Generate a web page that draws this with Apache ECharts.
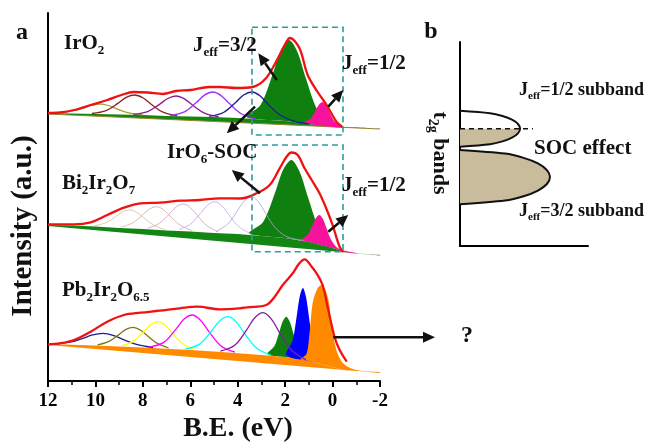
<!DOCTYPE html>
<html>
<head>
<meta charset="utf-8">
<script src="https://cdn.jsdelivr.net/npm/echarts@6/dist/echarts.min.js"></script>
<style>
  html, body { margin: 0; padding: 0; background: #fff; }
  #chart { width: 649px; height: 443px; }
</style>
</head>
<body>
<div id="chart"></div>
<script>
// binding energy ticks (axis runs 12 -> -2)
var beTicks = [12, 10, 8, 6, 4, 2, 0, -2];

// ---- IrO2 (top trace) ----
var iroBase = [[12, 268], [11, 267.5], [10, 267], [9, 266.5], [8, 266], [7, 265], [6, 264.5], [5, 264], [4, 263], [3, 261.5], [2, 260], [1, 257], [0, 254], [-1, 253], [-2, 252]];
var iroLow = [[12, 267], [-2, 252]];
var iroOlive = [[11.8, 267.8], [11.2, 269.2], [10.5, 272.8], [10.15, 275.8], [9.8, 277], [9.45, 275.5], [9.1, 272.2], [8.6, 268.1], [8.0, 266.2]];
var iroBrown = [[10.15, 267.5], [9.55, 270.4], [9.05, 277.6], [8.7, 283.6], [8.35, 286], [8.0, 283.2], [7.65, 276.8], [7.15, 268.8], [6.55, 265.2]];
var iroPurple = [[8.4, 266.6], [7.8, 269.4], [7.3, 276.6], [6.95, 282.5], [6.6, 285], [6.25, 282.1], [5.9, 275.8], [5.4, 267.8], [4.8, 264.2]];
var iroViolet = [[6.85, 265.5], [6.25, 269.1], [5.75, 278.4], [5.4, 285.9], [5.05, 289], [4.7, 285.4], [4.35, 277.4], [3.85, 267.3], [3.25, 262.4]];
var iroNavy = [[5.2, 264.7], [4.6, 268.5], [4.1, 278.2], [3.75, 286], [3.4, 289], [3.05, 285], [2.7, 276.1], [2.2, 265.8], [1.6, 259.6], [1.0, 257.2]];
var iroGreen = [[3.63, 264.3], [3.03, 276.3], [2.53, 306.4], [2.18, 330.7], [1.83, 341], [1.48, 329.1], [1.13, 303], [0.63, 270.6], [0.03, 255.9]];
var iroPink = [[1.22, 258.3], [0.92, 262.5], [0.72, 270.2], [0.57, 276.5], [0.42, 279], [0.27, 275.8], [0.12, 268.6], [-0.08, 259.8], [-0.38, 254.3], [-1, 253.5], [-2, 252.6]];
var iroEnv = [[12, 268], [11.5, 268.5], [10.9, 271], [10.2, 276], [9.5, 281], [8.9, 286], [8.4, 289], [7.8, 288.5], [7.15, 287], [6.6, 290], [6.0, 291], [5.2, 294], [4.76, 294], [4.05, 293], [3.37, 294], [2.8, 303], [2.3, 323], [1.95, 339], [1.8, 343], [1.4, 333], [1.05, 306], [0.63, 289], [0.25, 276], [-0.17, 259], [-0.42, 254]];

// ---- Bi2Ir2O7 (middle trace) ----
var biBase = [[12, 156], [11, 155.5], [10, 154.5], [9, 153], [8, 152], [7, 150.5], [6, 149.5], [5, 148], [4, 147], [3, 145], [2, 143], [1, 139], [0, 133], [-0.5, 129], [-1, 127.5], [-2, 126]];
var biLow = [[12, 155], [-2, 125.5]];
var biP1 = [[10.05, 155.2], [9.55, 158.4], [9.15, 164.3], [8.85, 169.2], [8.55, 171], [8.25, 168.5], [7.95, 163], [7.55, 155.9], [7.05, 151.3]];
var biP2 = [[8.92, 153.8], [8.42, 158.2], [8.02, 165.9], [7.72, 172], [7.42, 174.3], [7.12, 171.1], [6.82, 164.1], [6.42, 155.8], [5.92, 150.3]];
var biP3 = [[7.8, 152.8], [7.3, 157.7], [6.9, 166.6], [6.6, 174], [6.3, 177], [6.0, 173.4], [5.7, 165.4], [5.3, 155.3], [4.8, 148.9]];
var biP4 = [[6.47, 151.3], [5.97, 157.3], [5.57, 167.7], [5.27, 175.9], [4.97, 179.3], [4.67, 175.2], [4.37, 166.2], [3.97, 154.7], [3.47, 147.4]];
var biP5 = [[4.92, 149.4], [4.42, 157], [4.02, 170], [3.72, 180.1], [3.42, 184.3], [3.12, 178.9], [2.82, 167.6], [2.42, 153.4], [1.92, 144.3], [1.2, 140.5]];
var biGreen = [[3.53, 147.9], [2.93, 159.1], [2.43, 188.1], [2.08, 211.5], [1.73, 221], [1.38, 208.8], [1.03, 183.3], [0.53, 150.2], [-0.07, 134.2]];
var biPink = [[1.35, 140.6], [1.05, 146.1], [0.85, 155.5], [0.7, 163], [0.55, 166], [0.4, 161.8], [0.25, 152.5], [0.05, 140.8], [-0.25, 132.4], [-1, 128], [-2, 126.6]];
var biEnv = [[12, 156.7], [10.9, 156.7], [10.2, 158.7], [9.5, 166], [8.8, 173.3], [8.1, 177.7], [7.3, 178.3], [6.4, 180.3], [5.6, 181], [4.76, 182.7], [3.9, 182.5], [3.2, 187.7], [2.65, 196], [2.23, 212.7], [1.94, 224.3], [1.73, 228.5], [1.47, 226], [1.18, 212.7], [0.88, 201], [0.55, 187.7], [0.21, 169.3], [0, 156], [-0.3, 134], [-0.45, 129]];

// ---- Pb2Ir2O6.5 (bottom trace) ----
var pbBase = [[12, 37], [10, 35.5], [8, 33.5], [6, 31], [4.7, 29], [3, 26], [2, 24], [1, 20], [0.5, 17], [0, 14], [-0.5, 11], [-1, 10], [-2, 9]];
var pbLow = [[12, 36], [-2, 8]];
var pbNavy = [[11.77, 37], [11.07, 38.8], [10.57, 42.3], [10.12, 46.1], [9.67, 47.7], [9.22, 45.4], [8.77, 40.9], [8.27, 36.6], [7.57, 33.4]];
var pbOlive = [[9.91, 36.1], [9.41, 39.9], [9.01, 46.4], [8.71, 51.6], [8.41, 53.7], [8.11, 51], [7.81, 45.2], [7.41, 37.9], [6.91, 33]];
var pbYellow = [[8.86, 35.4], [8.36, 40.4], [7.96, 49.3], [7.66, 56.4], [7.36, 59.3], [7.06, 55.7], [6.76, 48], [6.36, 38.1], [5.86, 31.9]];
var pbMagenta = [[7.72, 33.9], [7.12, 38.6], [6.62, 51.4], [6.27, 61.7], [5.92, 66], [5.57, 60.8], [5.22, 49.7], [4.72, 35.3], [4.12, 28.9]];
var pbCyan = [[6.21, 32], [5.61, 36.9], [5.11, 49.8], [4.76, 60.1], [4.41, 64.3], [4.06, 59], [3.71, 47.4], [3.21, 33], [2.61, 26]];
var pbPurple = [[4.73, 29.9], [4.13, 35.7], [3.63, 50.9], [3.28, 63.2], [2.93, 68.3], [2.58, 61.9], [2.23, 48.2], [1.73, 30.8], [1.13, 21.4]];
var pbGreen = [[2.75, 26.7], [2.45, 34.9], [2.25, 48.7], [2.1, 59.7], [1.95, 64.3], [1.8, 59], [1.65, 47.2], [1.45, 32.2], [1.15, 22.2]];
var pbBlue = [[1.95, 26], [1.68, 40.7], [1.51, 65.2], [1.38, 84.9], [1.25, 93], [1.12, 83.9], [0.99, 63.1], [0.82, 37], [0.55, 19.5]];
var pbOrange = [[1.35, 22], [1.1, 27], [0.97, 48], [0.84, 78], [0.65, 92], [0.48, 96], [0.3, 91], [0.15, 78], [0.06, 58], [-0.16, 31], [-0.43, 18], [-0.85, 12], [-1.3, 10], [-2, 9.5]];
var pbEnv = [[12, 36.7], [11.5, 37.7], [10.9, 41], [10.2, 49.3], [9.5, 59.3], [8.8, 66], [8.1, 68.3], [7.3, 70.3], [6.44, 72.7], [5.7, 74.3], [4.76, 71.7], [3.9, 72.7], [3.6, 73.7], [2.8, 76], [2.44, 84.3], [2.1, 96], [1.68, 107.7], [1.4, 117.7], [1.18, 121.7], [0.88, 114.3], [0.63, 106], [0.42, 96], [0.21, 74.3], [-0.08, 44.3], [-0.3, 31], [-0.6, 19.3]];

// dashed boxes and arrows (B.E., intensity)
var boxTop = [[3.4, 353.7], [-0.44, 353.7], [-0.44, 246], [3.4, 246]];
var boxMid = [[3.4, 236], [-0.44, 236], [-0.44, 129.3], [3.4, 129.3]];
var arrowsA = [
  [[2.35, 301], [3.13, 327.7]],
  [[3.27, 274.3], [4.46, 247.7]],
  [[0.18, 274.3], [-0.45, 291]],
  [[3.06, 187.7], [4.25, 211]],
  [[0.18, 149.3], [-0.66, 166]],
  [[-0.03, 43.7], [-4.32, 43.7]]
];

// ---- panel b: band sketch ----
var upperBand = [[0, 6.63], [2.35, 6.51], [3.32, 6.37], [4.06, 6.19], [4.53, 5.98], [4.69, 5.75], [4.53, 5.52], [4.06, 5.31], [3.32, 5.13], [2.35, 4.99], [0, 4.87]];
var upperFill = [[0, 5.75], [4.69, 5.75], [4.53, 5.52], [4.06, 5.31], [3.32, 5.13], [2.35, 4.99], [0, 4.87]];
var lowerBand = [[0, 4.71], [3.52, 4.53], [4.97, 4.32], [6.09, 4.05], [6.79, 3.72], [7.03, 3.38], [6.79, 3.04], [6.09, 2.72], [4.97, 2.44], [3.52, 2.23], [0, 2.05]];
var fermiLine = [[0, 5.75], [5.7, 5.75]];

var FONT = 'Liberation Serif';

// polygon / polyline drawn through the axes
function shape(pts, o) {
  var ax = o.axis || 0;
  return {
    type: 'custom', xAxisIndex: ax, yAxisIndex: ax, z: o.z || 2, silent: true,
    data: [0],
    renderItem: function (params, api) {
      var p = pts.map(function (d) { return api.coord(d); });
      return {
        type: o.open ? 'polyline' : 'polygon',
        shape: { points: p, smooth: o.smooth || 0 },
        style: { fill: o.fill || 'none', stroke: o.stroke || 'none', lineWidth: o.lw || 0, lineDash: o.dash || null }
      };
    }
  };
}

// close a filled peak along its background
function onBase(pts, base) {
  var hi = pts[0][0], lo = pts[pts.length - 1][0];
  var back = base.filter(function (b) { return b[0] < hi && b[0] > lo; }).reverse();
  return pts.concat(back);
}

function curve(name, data, color, width, z) {
  return {
    name: name, type: 'line', data: data, smooth: 0.35, symbol: 'none', silent: true,
    lineStyle: { color: color, width: width }, z: z
  };
}

function arrow(a, b) {
  return {
    type: 'custom', z: 6, silent: true, data: [0],
    renderItem: function (params, api) {
      var p0 = api.coord(a), p1 = api.coord(b);
      var dx = p1[0] - p0[0], dy = p1[1] - p0[1];
      var len = Math.sqrt(dx * dx + dy * dy);
      var ux = dx / len, uy = dy / len, hl = 12, hw = 5.5;
      var bx = p1[0] - ux * hl, by = p1[1] - uy * hl;
      return {
        type: 'group', children: [
          { type: 'line', shape: { x1: p0[0], y1: p0[1], x2: bx, y2: by }, style: { stroke: '#111', lineWidth: 2.5 } },
          { type: 'polygon', shape: { points: [p1, [bx - uy * hw, by + ux * hw], [bx + uy * hw, by - ux * hw]] }, style: { fill: '#111' } }
        ]
      };
    }
  };
}

var series = [];
// backgrounds
series.push(shape(iroBase.concat(iroLow.slice().reverse()), { fill: '#128512', z: 1 }));
series.push(shape(iroLow, { open: true, stroke: '#8f8a2a', lw: 1.2, z: 1 }));
series.push(shape(biBase.concat(biLow.slice().reverse()), { fill: '#128512', z: 1 }));
series.push(shape(pbBase.concat(pbLow.slice().reverse()), { fill: '#ff8a00', z: 1 }));
// filled components
series.push(shape(onBase(iroGreen, iroBase), { fill: '#0f800f', smooth: 0.3, z: 2 }));
series.push(shape(onBase(iroPink, iroBase), { fill: '#f7139b', smooth: 0.3, z: 2 }));
series.push(shape(onBase(biGreen, biBase), { fill: '#0f800f', smooth: 0.3, z: 2 }));
series.push(shape(onBase(biPink, biBase), { fill: '#f7139b', smooth: 0.3, z: 2 }));
series.push(shape(onBase(pbGreen, pbBase), { fill: '#0f800f', smooth: 0.3, z: 2 }));
series.push(shape(onBase(pbBlue, pbBase), { fill: '#0000ff', smooth: 0.3, z: 2 }));
series.push(shape(onBase(pbOrange, pbBase), { fill: '#ff8a00', smooth: 0.3, z: 2 }));
// open components
series.push(curve('IrO2 1', iroOlive, '#a3a032', 1.3, 3));
series.push(curve('IrO2 2', iroBrown, '#8b2222', 1.3, 3));
series.push(curve('IrO2 3', iroPurple, '#8b1a8b', 1.3, 3));
series.push(curve('IrO2 4', iroViolet, '#9b30ff', 1.3, 3));
series.push(curve('IrO2 5', iroNavy, '#1c1c8c', 1.3, 3));
series.push(curve('Bi 1', biP1, '#cdc296', 0.8, 3));
series.push(curve('Bi 2', biP2, '#d6a4a6', 0.8, 3));
series.push(curve('Bi 3', biP3, '#c99ccb', 0.8, 3));
series.push(curve('Bi 4', biP4, '#c0a4e6', 0.8, 3));
series.push(curve('Bi 5', biP5, '#a6a6d6', 0.8, 3));
series.push(curve('Pb 1', pbNavy, '#1e1e90', 1.3, 3));
series.push(curve('Pb 2', pbOlive, '#7c7a14', 1.3, 3));
series.push(curve('Pb 3', pbYellow, '#ffff00', 1.3, 3));
series.push(curve('Pb 4', pbMagenta, '#ff00ff', 1.3, 3));
series.push(curve('Pb 5', pbCyan, '#00ffff', 1.3, 3));
series.push(curve('Pb 6', pbPurple, '#7e1e9e', 1.3, 3));
// envelopes
series.push(curve('IrO2 sum', iroEnv, '#f01212', 2.3, 4));
series.push(curve('Bi sum', biEnv, '#f01212', 2.3, 4));
series.push(curve('Pb sum', pbEnv, '#f01212', 2.3, 4));
// boxes
series.push(shape(boxTop, { stroke: '#2f9b9b', lw: 1.6, dash: [6, 4], z: 5 }));
series.push(shape(boxMid, { stroke: '#2f9b9b', lw: 1.6, dash: [6, 4], z: 5 }));
arrowsA.forEach(function (a) { series.push(arrow(a[0], a[1])); });
// panel b
series.push(shape(upperFill, { axis: 1, fill: '#c9bc9c', z: 2 }));
series.push(shape(lowerBand, { axis: 1, fill: '#c9bc9c', z: 2 }));
series.push(shape(upperBand, { axis: 1, open: true, stroke: '#111', lw: 2, smooth: 0.3, z: 3 }));
series.push(shape(lowerBand, { axis: 1, open: true, stroke: '#111', lw: 2, smooth: 0.3, z: 3 }));
series.push(shape(fermiLine, { axis: 1, open: true, stroke: '#111', lw: 1.6, dash: [5, 4], z: 3 }));

function txt(x, y, text, size, extra) {
  extra = extra || {};
  var sub = extra.sub || Math.round(size * 0.62);
  return {
    type: 'text', x: x, y: y, rotation: extra.rot || 0, z: 100, silent: true,
    style: {
      text: text, fill: '#111', fontSize: size, fontWeight: 'bold', fontFamily: FONT,
      align: extra.align || 'left', verticalAlign: 'middle',
      rich: {
        m: { fontSize: size, fontWeight: 'bold', fontFamily: FONT, fill: '#111' },
        s: { fontSize: sub, fontWeight: 'bold', fontFamily: FONT, fill: '#111', padding: [Math.round(size * 0.68), 0, 0, 0] }
      }
    }
  };
}

var labels = [
  txt(22, 33, 'a', 24, { align: 'center' }),
  txt(64, 44, '{m|IrO}{s|2}', 21),
  txt(193, 46, '{m|J}{s|eff}{m|=3/2}', 21),
  txt(342, 64, '{m|J}{s|eff}{m|=1/2}', 21),
  txt(167, 153, '{m|IrO}{s|6}{m|-SOC}', 21),
  txt(62, 184, '{m|Bi}{s|2}{m|Ir}{s|2}{m|O}{s|7}', 21),
  txt(342, 186, '{m|J}{s|eff}{m|=1/2}', 21),
  txt(62, 291, '{m|Pb}{s|2}{m|Ir}{s|2}{m|O}{s|6.5}', 21),
  txt(467, 336, '?', 24, { align: 'center' }),
  txt(238, 429, 'B.E. (eV)', 28, { align: 'center' }),
  txt(24, 226, 'Intensity (a.u.)', 29, { align: 'center', rot: Math.PI / 2 }),
  txt(431, 32, 'b', 24, { align: 'center' }),
  txt(519, 90, '{m|J}{s|eff}{m|=1/2 subband}', 18),
  txt(534, 149, 'SOC effect', 21),
  txt(519, 211, '{m|J}{s|eff}{m|=3/2 subband}', 18),
  txt(440, 153, '{m|t}{s|2g}{m| bands}', 22, { align: 'center', rot: -Math.PI / 2 })
];

var blackLine = { show: true, onZero: false, lineStyle: { color: '#000', width: 2 } };

var option = {
  animation: false,
  backgroundColor: '#fff',
  grid: [
    { left: 48, top: 13, width: 332, height: 368 },
    { left: 460, top: 42, width: 128, height: 204 }
  ],
  xAxis: [
    {
      type: 'value', gridIndex: 0, inverse: true,
      min: beTicks[beTicks.length - 1], max: beTicks[0], interval: 2,
      axisLine: blackLine,
      axisTick: { show: true, length: 6, lineStyle: { color: '#000', width: 2 } },
      minorTick: { show: true, splitNumber: 2, length: 4, lineStyle: { color: '#000', width: 1.5 } },
      splitLine: { show: false },
      axisLabel: { margin: 11, color: '#000', fontSize: 19, fontWeight: 'bold', fontFamily: FONT }
    },
    { type: 'value', gridIndex: 1, min: 0, max: 10, axisLine: blackLine, axisTick: { show: false }, axisLabel: { show: false }, splitLine: { show: false } }
  ],
  yAxis: [
    { type: 'value', gridIndex: 0, min: 0, max: 368, axisLine: blackLine, axisTick: { show: false }, axisLabel: { show: false }, splitLine: { show: false } },
    { type: 'value', gridIndex: 1, min: 0, max: 10, axisLine: blackLine, axisTick: { show: false }, axisLabel: { show: false }, splitLine: { show: false } }
  ],
  graphic: labels,
  series: series
};

var chart = echarts.init(document.getElementById('chart'));
chart.setOption(option);
window.addEventListener('resize', function () { chart.resize(); });
</script>
</body>
</html>
